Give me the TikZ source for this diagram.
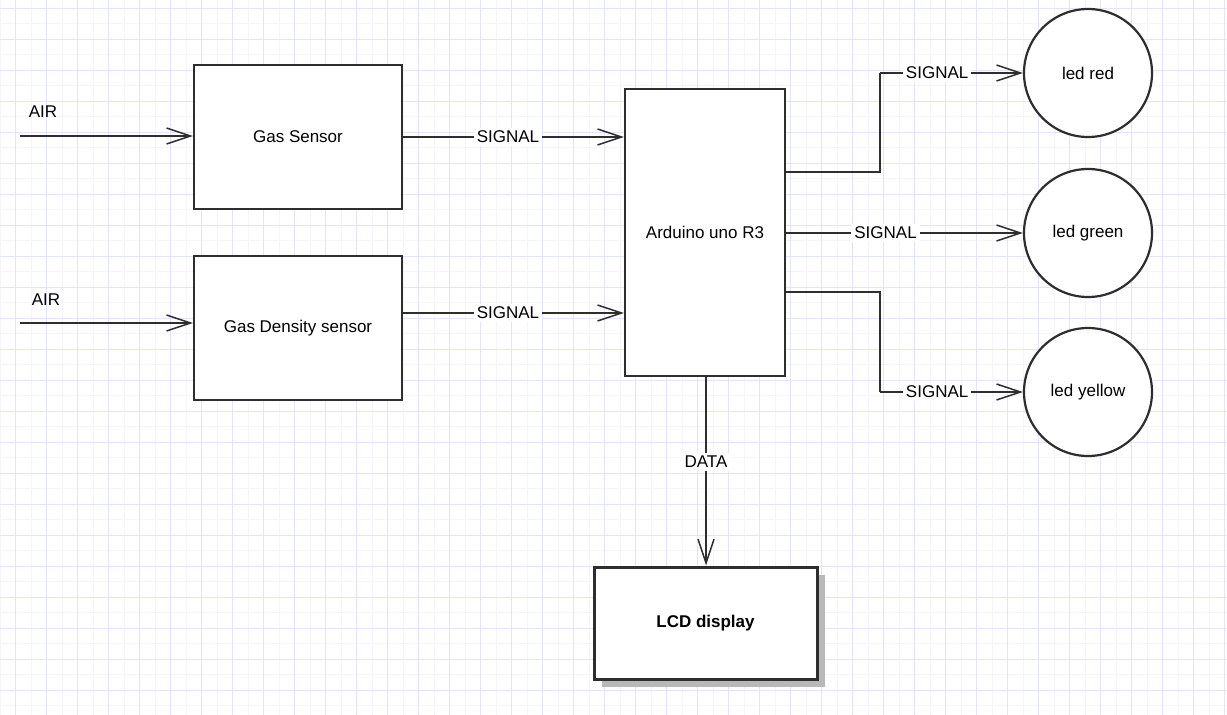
\documentclass[tikz,border=0pt]{standalone}
\usepackage{fontspec}
\setmainfont{Liberation Sans}
\usetikzlibrary{arrows.meta,calc}
\definecolor{gridminor}{HTML}{F4F4FD}
\definecolor{gridmajor}{HTML}{E4E4F8}
\definecolor{ink}{HTML}{2E2E2E}
\tikzset{
  x=1pt,y=-1pt,
  every node/.style={font=\fontsize{17}{20}\selectfont},
  blockbox/.style={draw=ink,line width=2.2pt,fill=white,inner sep=0pt},
  ledcircle/.style={draw=ink,line width=2.2pt,fill=white,circle,minimum size=128pt,inner sep=0pt},
  conn/.style={draw=ink,line width=1.5pt,-{Straight Barb[length=24pt,width=16pt,line width=1.5pt]}},
  plainline/.style={draw=ink,line width=1.5pt},
  lbl/.style={fill=white,inner sep=3pt},
}
\begin{document}
\begin{tikzpicture}
\useasboundingbox (0,0) rectangle (1227,715);
\fill[white] (0,0) rectangle (1227,715);
% grid
\foreach \i in {0,...,79} {\draw[gridminor,line width=0.8pt] ({15.5*\i},0) -- ({15.5*\i},715);}
\foreach \i in {0,...,46} {\draw[gridminor,line width=0.8pt] (0,{8+15.5*\i}) -- (1227,{8+15.5*\i});}
\foreach \i in {0,...,39} {\draw[gridmajor,line width=0.8pt] ({15.7+31*\i},0) -- ({15.7+31*\i},715);}
\foreach \i in {0,...,23} {\draw[gridmajor,line width=0.8pt] (0,{8+31*\i}) -- (1227,{8+31*\i});}

% blocks
\node[blockbox,minimum width=208pt,minimum height=144pt] (gas) at (298,137) {Gas Sensor};
\node[blockbox,minimum width=208pt,minimum height=144pt] (dens) at (298,328) {Gas Density sensor};
\node[blockbox,minimum width=160pt,minimum height=287pt] (ard) at (705,232.5) {Arduino uno R3};
\fill[black!28] (602,575) rectangle (825,687);
\node[blockbox,line width=3pt,minimum width=223pt,minimum height=112pt,font=\fontsize{17}{20}\selectfont\bfseries] (lcd) at (705.5,623) {LCD display};
\node[ledcircle] (red) at (1088,73) {led red};
\node[ledcircle] (green) at (1088,233) {led green};
\node[ledcircle] (yellow) at (1088,392) {led yellow};

% air inputs
\coordinate (air1) at (20,136);
\coordinate (air2) at (20,323);
\node (airl1) at (43,112) {AIR};
\node (airl2) at (46,300) {AIR};
\draw[conn] (air1) -- (gas.west |- air1);
\draw[conn] (air2) -- (dens.west |- air2);

% signals into arduino
\draw[conn] (gas.east |- 0,137) -- node[lbl,pos=0.475] {SIGNAL} (ard.west |- 0,137);
\draw[conn] (dens.east |- 0,313) -- node[lbl,pos=0.475] {SIGNAL} (ard.west |- 0,313);

% outputs
\draw[plainline] (ard.east |- 0,172) -- (880,172) -- (880,73);
\draw[conn] (880,73) -- node[lbl,pos=0.4] {SIGNAL} (red.west);
\draw[conn] (ard.east |- green.west) -- node[lbl,pos=0.42] {SIGNAL} (green.west);
\draw[plainline] (ard.east |- 0,292) -- (880,292) -- (880,392);
\draw[conn] (880,392) -- node[lbl,pos=0.4] {SIGNAL} (yellow.west);

% data
\draw[conn] (ard.south -| 706,0) -- node[lbl,pos=0.45] {DATA} (lcd.north -| 706,0);
\end{tikzpicture}
\end{document}
